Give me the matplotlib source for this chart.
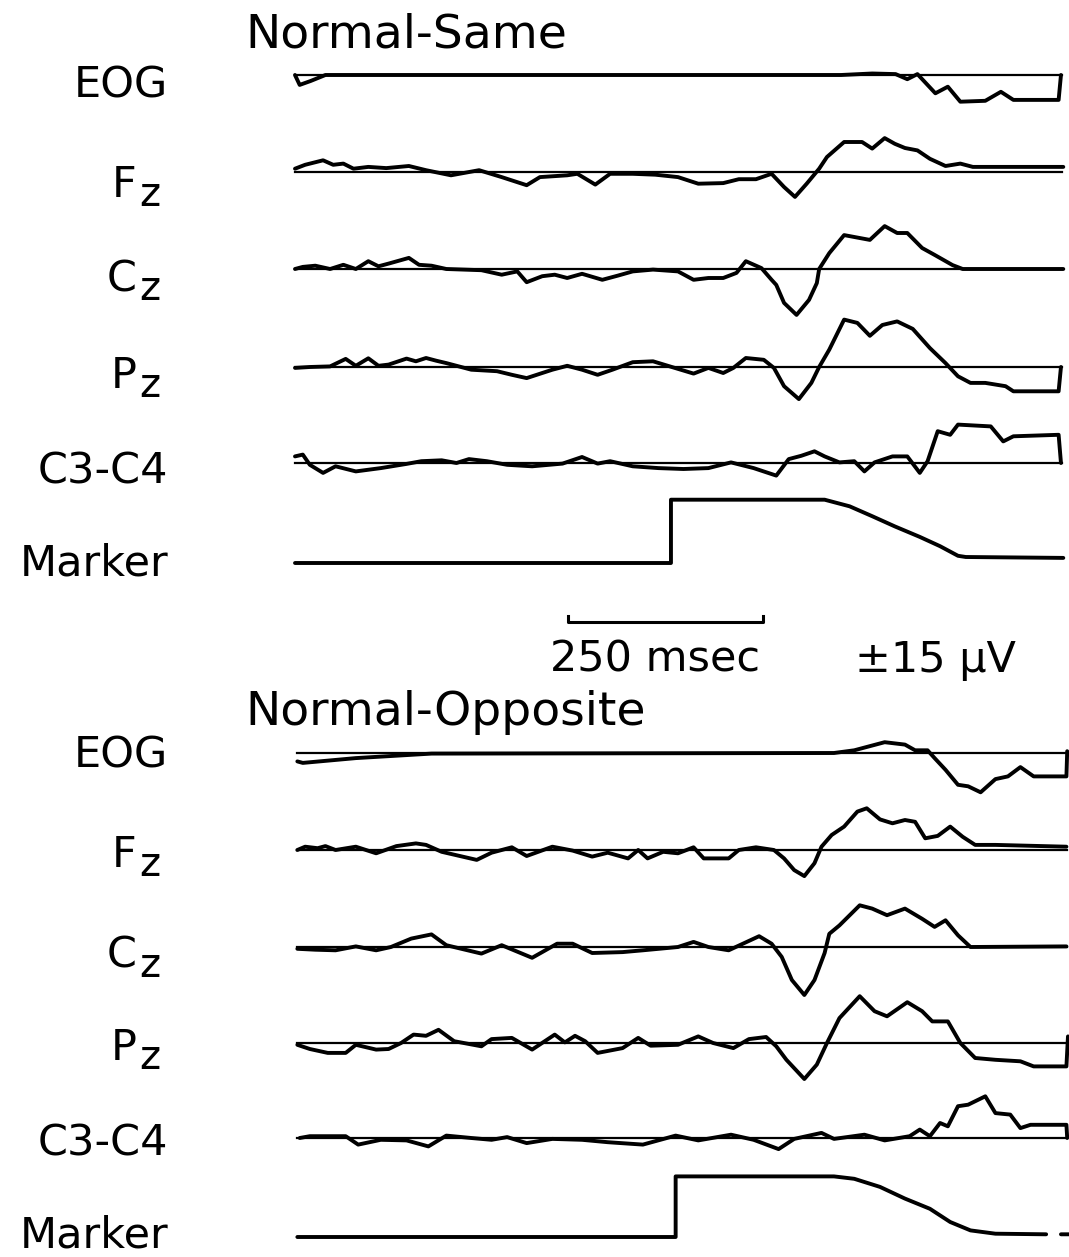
import numpy as np
import matplotlib.pyplot as plt

# taille de l'image cible (pixels) et echelles des traces
W, H = 1069, 1257
PX_PER_MS = 0.78      # 250 ms = 195 px
PX_PER_UV = 3.0
X0 = 295              # debut des traces (px)

# ---- Normal-Same : temps (ms) et amplitudes (uV, positif vers le haut) ----
same_eog_t = [0, 6, 20, 39, 700, 740, 770, 785, 798, 821, 837, 853, 885, 905, 921, 979, 982]
same_eog_v = [0, -3.3, -2.0, 0, 0, 0.5, 0.3, -1.4, 0.3, -6.1, -3.9, -8.9, -8.6, -5.6, -8.3, -8.3, 0]

same_fz_t = [0, 13, 36, 49, 62, 75, 94, 117, 146, 168, 200, 236, 265, 297, 314, 349, 362, 385,
             404, 433, 462, 491, 517, 549, 569, 591, 611, 627, 641, 656, 672, 682, 704, 727,
             740, 756, 769, 782, 798, 814, 834, 853, 869, 898, 985]
same_fz_v = [1.1, 2.4, 3.9, 2.4, 2.8, 1.1, 1.7, 1.3, 2.0, 0.6, -1.1, 0.6, -1.7, -4.4, -1.7, -1.1,
             -0.6, -4.2, -0.6, -0.6, -0.9, -1.7, -3.9, -3.7, -2.4, -2.4, -0.6, -5.0, -8.3, -3.9,
             1.1, 5.0, 10.0, 10.0, 7.8, 11.3, 9.4, 8.0, 7.2, 4.4, 2.0, 2.8, 1.7, 1.7, 1.7]

same_cz_t = [0, 10, 26, 45, 62, 78, 94, 107, 120, 146, 159, 175, 194, 239, 265, 285, 297, 317,
             333, 349, 368, 394, 414, 433, 459, 491, 511, 530, 549, 566, 578, 598, 611, 617,
             627, 643, 659, 669, 672, 685, 704, 737, 756, 772, 785, 804, 820, 843, 856, 985]
same_cz_v = [0, 0.7, 1.1, 0, 1.4, 0, 2.6, 0.9, 1.8, 3.7, 1.4, 1.1, 0, -0.4, -1.9, -0.8, -4.4,
             -2.4, -1.9, -3.0, -1.6, -3.6, -2.2, -0.8, -0.2, -0.8, -3.6, -3.0, -3.0, -1.3, 2.6,
             0.3, -3.6, -5.3, -11.3, -15.3, -10.3, -4.7, 0, 5.3, 11.3, 9.7, 14.3, 12.0, 12.0,
             7.0, 4.7, 1.3, 0, 0]

same_pz_t = [0, 19, 45, 65, 78, 94, 107, 120, 143, 155, 168, 181, 194, 226, 259, 278, 297, 317,
             330, 349, 368, 388, 407, 433, 459, 478, 511, 530, 549, 562, 578, 601, 614, 627,
             646, 662, 672, 685, 704, 721, 737, 753, 772, 792, 814, 834, 850, 866, 885, 911,
             921, 979, 982]
same_pz_v = [-0.3, 0, 0.2, 2.7, 0.4, 2.9, 0.4, 0.8, 2.8, 1.9, 3.0, 2.1, 1.3, -0.9, -1.4, -2.6,
             -3.7, -2.0, -0.9, 0.4, -0.9, -2.6, -0.9, 1.6, 1.9, 0.4, -2.2, -0.3, -2.0, -0.3,
             3.0, 2.4, -0.3, -6.4, -10.7, -5.3, 0, 5.8, 15.8, 14.7, 10.4, 14.0, 15.2, 12.7,
             6.3, 1.3, -3.1, -5.3, -5.3, -6.4, -8.1, -8.1, 0]

same_c34_t = [0, 10, 19, 36, 52, 78, 110, 143, 162, 188, 207, 223, 246, 272, 304, 343, 368,
              388, 404, 433, 466, 498, 530, 559, 588, 617, 633, 649, 666, 679, 698, 717, 730,
              743, 766, 785, 801, 811, 824, 840, 850, 892, 908, 921, 979, 982]
same_c34_v = [2.2, 2.8, -0.6, -3.3, -1.1, -2.8, -1.7, -0.3, 0.6, 0.9, 0, 1.3, 0.6, -0.6, -1.1,
              -0.2, 2.0, -0.2, 0.6, -1.1, -1.7, -2.0, -1.7, 0.2, -1.7, -4.2, 1.3, 2.4, 3.9, 2.2,
              0.2, 0.6, -2.8, 0.2, 2.2, 2.2, -3.3, 0.6, 10.6, 9.4, 12.8, 12.2, 7.2, 8.9, 9.4, 0]

same_mark_t = [0, 482, 482, 679, 711, 740, 769, 801, 827, 850, 860, 985]
same_mark_v = [0, 0, 21.1, 21.1, 18.9, 15.6, 12.2, 8.7, 5.6, 2.4, 2.0, 1.7]

# ---- Normal-Opposite ----
opp_eog_t = [3, 10, 78, 175, 691, 717, 756, 782, 795, 811, 820, 834, 850, 863, 879, 898, 914,
             930, 947, 989, 990]
opp_eog_v = [-2.8, -3.3, -1.7, -0.2, 0, 0.9, 3.6, 2.8, 0.9, 0.9, -1.7, -5.6, -10.6, -11.1,
             -13.1, -8.7, -7.8, -4.7, -7.8, -7.8, 0.6]

opp_fz_t = [3, 13, 29, 39, 52, 78, 104, 130, 155, 168, 188, 233, 252, 278, 297, 330, 356, 381,
            401, 427, 440, 452, 472, 491, 511, 524, 556, 569, 591, 614, 627, 640, 653, 666,
            675, 688, 704, 721, 733, 750, 766, 782, 795, 808, 824, 840, 856, 872, 898, 989]
opp_fz_v = [0, 1.1, 0.6, 1.3, 0, 1.1, -1.1, 1.3, 2.2, 1.7, -0.6, -3.3, -0.9, 0.9, -2.0, 1.1,
            -0.2, -2.2, -0.9, -2.8, 0, -2.8, -0.6, -1.1, 0.9, -2.8, -2.8, 0, 0.9, 0, -2.8,
            -6.7, -8.7, -4.4, 1.1, 5.0, 7.8, 12.8, 13.9, 10.2, 8.9, 10.0, 9.4, 3.9, 4.7, 7.8,
            4.4, 1.7, 1.7, 1.1]

opp_cz_t = [3, 26, 52, 78, 104, 123, 149, 175, 194, 239, 265, 304, 336, 356, 381, 420, 446,
            491, 511, 530, 556, 595, 611, 624, 637, 653, 666, 679, 685, 698, 724, 740, 759,
            782, 804, 820, 834, 850, 866, 989]
opp_cz_v = [-0.6, -0.9, -1.1, 0.2, -1.1, 0, 2.8, 4.2, 0.6, -2.2, 0.6, -3.6, 1.1, 1.1, -2.0,
            -1.7, -1.1, 0, 1.7, 0, -1.1, 3.6, 1.1, -3.3, -11.0, -16.0, -11.0, -2.0, 4.4, 7.2,
            13.9, 12.8, 10.6, 12.8, 9.4, 6.7, 8.9, 3.9, 0, 0.2]

opp_pz_t = [3, 19, 42, 65, 78, 104, 120, 136, 152, 168, 184, 204, 239, 252, 278, 304, 333,
            346, 359, 372, 388, 420, 440, 456, 491, 517, 536, 562, 582, 604, 617, 630, 653,
            669, 682, 698, 724, 743, 759, 785, 804, 817, 837, 853, 872, 898, 930, 947, 989, 991]
opp_pz_v = [-0.6, -2.0, -3.3, -3.3, -0.6, -2.2, -2.0, 0, 2.8, 2.4, 4.4, 0.6, -1.1, 1.3, 1.7,
            -2.2, 2.8, 0.2, 2.4, 0.6, -3.3, -1.7, 1.7, -0.9, -0.6, 2.2, 0, -1.7, 1.3, 2.0,
            -1.1, -5.6, -12.0, -7.2, 0, 8.3, 15.6, 10.6, 8.9, 13.6, 10.6, 7.2, 7.2, 0, -5.0,
            -5.6, -6.1, -7.8, -7.8, 2.2]

opp_c34_t = [6, 19, 45, 65, 81, 110, 143, 171, 194, 226, 252, 272, 297, 330, 368, 401, 446,
             488, 517, 559, 588, 620, 640, 675, 691, 730, 756, 788, 801, 814, 827, 837, 850,
             863, 885, 898, 917, 930, 943, 989, 990]
opp_c34_v = [0, 0.6, 0.6, 0.6, -2.2, -0.6, -0.8, -2.8, 0.8, 0, -0.6, 0.3, -1.7, -0.3, -0.6,
             -1.4, -2.2, 0.8, -0.8, 1.1, -0.6, -3.7, -0.3, 1.7, -0.3, 1.1, -0.8, 0.6, 2.8, 0.6,
             5.0, 3.9, 10.6, 11.1, 13.9, 8.3, 7.8, 3.3, 4.4, 4.4, 0]

opp_mark_t = [3, 488, 488, 691, 717, 750, 782, 814, 840, 866, 898, 963, np.nan, 982, 992]
opp_mark_v = [0, 0, 20.2, 20.2, 19.4, 16.7, 12.8, 9.4, 5.0, 2.2, 1.1, 0.9, np.nan, 0.9, 0.9]

channels = ['EOG', 'F', 'C', 'P', 'C3-C4', 'Marker']
subscripts = ['', 'z', 'z', 'z', '', '']

panels = [
    dict(title='Normal-Same', title_y=48,
         rows=[75, 172, 269, 367, 463, 563], label_y=[97, 197, 291, 388, 483, 575],
         span=(0, 983),
         traces=[(same_eog_t, same_eog_v), (same_fz_t, same_fz_v), (same_cz_t, same_cz_v),
                 (same_pz_t, same_pz_v), (same_c34_t, same_c34_v), (same_mark_t, same_mark_v)]),
    dict(title='Normal-Opposite', title_y=725,
         rows=[753, 850, 947, 1043, 1138, 1237], label_y=[768, 867, 968, 1060, 1155, 1247],
         span=(3, 990),
         traces=[(opp_eog_t, opp_eog_v), (opp_fz_t, opp_fz_v), (opp_cz_t, opp_cz_v),
                 (opp_pz_t, opp_pz_v), (opp_c34_t, opp_c34_v), (opp_mark_t, opp_mark_v)]),
]


def fx(x):
    return x / W


def fy(y):
    return 1 - y / H


fig = plt.figure(figsize=(W / 100, H / 100), dpi=100)
ax = fig.add_axes([0, 0, 1, 1])
ax.set_xlim(-X0 / PX_PER_MS, (W - X0) / PX_PER_MS)
ax.set_ylim(-H / PX_PER_UV, 0)
ax.axis('off')

fs = 31
for p in panels:
    fig.text(fx(245), fy(p['title_y']), p['title'], fontsize=34, ha='left', va='baseline')
    for i, (t, v) in enumerate(p['traces']):
        base = -p['rows'][i] / PX_PER_UV
        if channels[i] != 'Marker':
            ax.plot(p['span'], [base, base], color='black', lw=1.6)
        ax.plot(t, base + np.array(v, dtype=float), color='black', lw=2.8,
                solid_joinstyle='round', solid_capstyle='round')
        ly = p['label_y'][i]
        if subscripts[i]:
            fig.text(fx(137), fy(ly), channels[i], fontsize=fs, ha='right', va='baseline')
            fig.text(fx(139), fy(ly + 9), subscripts[i], fontsize=fs - 2, ha='left', va='baseline')
        else:
            fig.text(fx(168), fy(ly), channels[i], fontsize=fs, ha='right', va='baseline')

# barre d'echelle 250 ms
bar_t0 = (568 - X0) / PX_PER_MS
bar_y = -622 / PX_PER_UV
ax.plot([bar_t0, bar_t0, bar_t0 + 250, bar_t0 + 250],
        [bar_y + 2, bar_y, bar_y, bar_y + 2], color='black', lw=2.2)
fig.text(fx(655), fy(672), '250 msec', fontsize=fs, ha='center', va='baseline')
fig.text(fx(855), fy(672), '±15 µV', fontsize=fs, ha='left', va='baseline')

plt.savefig('out.png', dpi=100, facecolor='white')
